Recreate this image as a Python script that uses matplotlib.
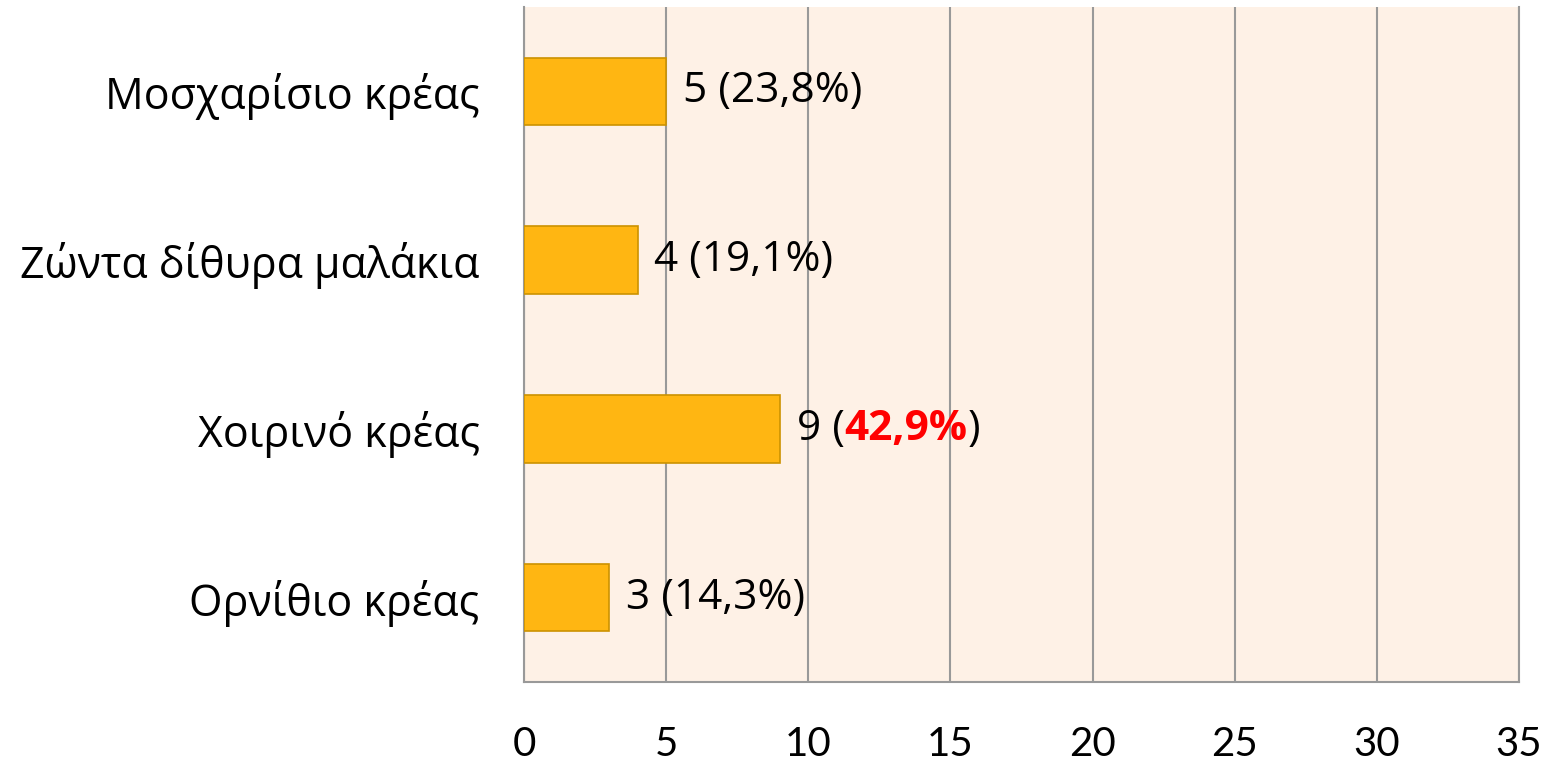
import matplotlib.pyplot as plt

categories = ['Μοσχαρίσιο κρέας', 'Ζώντα δίθυρα μαλάκια', 'Χοιρινό κρέας', 'Ορνίθιο κρέας']
counts = [5, 4, 9, 3]
percents = ['23,8%', '19,1%', '42,9%', '14,3%']
highlight = 'Χοιρινό κρέας'
xticks = [0, 5, 10, 15, 20, 25, 30, 35]

fig = plt.figure(figsize=(15.58, 7.61), dpi=100)
ax = fig.add_axes([0.3363, 0.1038, 0.975 - 0.3363, 0.9908 - 0.1038])
ax.set_facecolor('#FEF1E6')

ypos = list(range(len(categories)))
ax.barh(ypos, counts, height=0.4, color='#FFB612', edgecolor='#CC9200', linewidth=1.2, zorder=3)

ax.set_xlim(0, 35)
ax.set_ylim(len(categories) - 0.5, -0.5)
ax.set_xticks(xticks)
ax.set_xticklabels([str(t) for t in xticks], fontsize=29, family='Lato')
ax.set_yticks(ypos)
ax.set_yticklabels(categories, fontsize=31, family='Open Sans')
ax.tick_params(axis='x', length=0, pad=32)
ax.tick_params(axis='y', length=0, pad=32)
ax.grid(axis='x', color='#999999', linewidth=1.5, zorder=1)
ax.spines['top'].set_visible(False)
for s in ['left', 'bottom', 'right']:
    ax.spines[s].set_color('#999999')
    ax.spines[s].set_linewidth(1.5)

fs = 30.5
for y, c, n, p in zip(ypos, categories, counts, percents):
    kw = dict(fontsize=fs, family='Open Sans', va='center')
    if c == highlight:
        t1 = ax.annotate(f'{n} (', xy=(n, y), xytext=(12, 0), textcoords='offset points', **kw)
        t2 = ax.annotate(p, xycoords=t1, xy=(1, 0), va='bottom', fontsize=fs, family='Open Sans',
                         color='#FF0000', fontweight='bold')
        ax.annotate(')', xycoords=t2, xy=(1, 0), va='bottom', fontsize=fs, family='Open Sans')
    else:
        ax.annotate(f'{n} ({p})', xy=(n, y), xytext=(12, 0), textcoords='offset points', **kw)

fig.savefig('out.png', dpi=100)
